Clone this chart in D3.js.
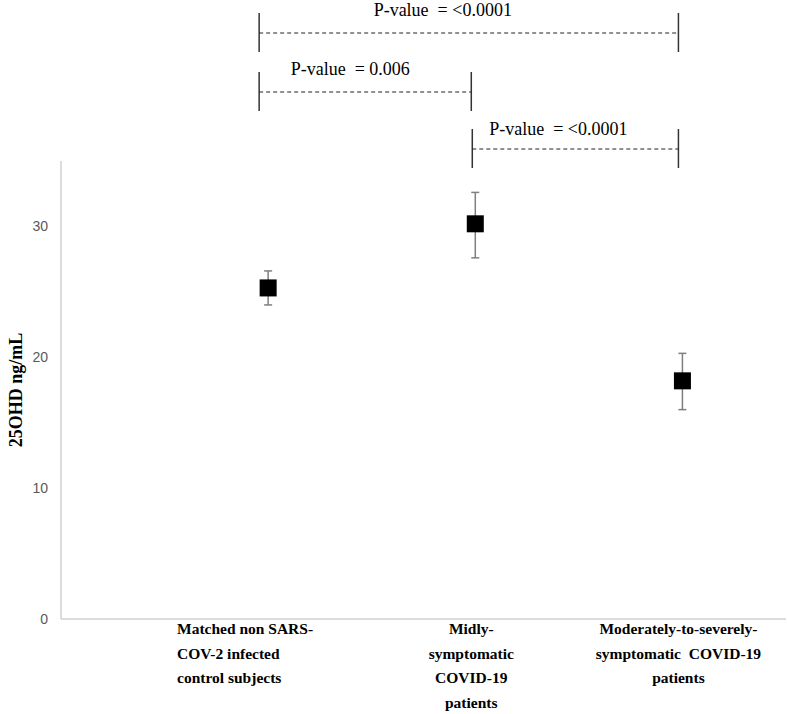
<!DOCTYPE html>
<html>
<head>
<title>25OHD by group</title>
<style>
body { margin: 0; background: #fff; }
</style>
</head>
<body>

<div id="svg-container"></div>

<script src="https://d3js.org/d3.v7.min.js"></script>
<script>
const width = 787;
const height = 714;

// data
const categories = [
  ["Matched non SARS-", "COV-2 infected", "control subjects"],
  ["Midly-", "symptomatic", "COVID-19", "patients"],
  ["Moderately-to-severely-", "symptomatic  COVID-19", "patients"]
];
const means = [25.3, 30.2, 18.2];
const lower = [24.0, 27.6, 16.0];
const upper = [26.6, 32.6, 20.3];
const yTicks = [0, 10, 20, 30];
const comparisons = [
  { from: 0, to: 2, label: "P-value  = <0.0001" },
  { from: 0, to: 1, label: "P-value  = 0.006" },
  { from: 1, to: 2, label: "P-value  = <0.0001" }
];

const svg = d3.select("#svg-container")
  .append("svg")
  .attr("width", width)
  .attr("height", height);

svg.append("rect")
    .attr("width", width)
    .attr("height", height)
    .attr("fill", "#fff");

const x = d3.scaleLinear().domain([0, 3.5]).range([61, 786]);
const y = d3.scaleLinear().domain([0, 35]).range([619, 161]);

// axes lines
svg.append("line")
    .attr("x1", x(0)).attr("x2", x(0))
    .attr("y1", y(35)).attr("y2", y(0))
    .attr("stroke", "#d0d0d0").attr("stroke-width", 1.5);
svg.append("line")
    .attr("x1", x(0)).attr("x2", x(3.5))
    .attr("y1", y(0)).attr("y2", y(0))
    .attr("stroke", "#d0d0d0").attr("stroke-width", 1.5);

// y tick labels
svg.selectAll(".ytick")
  .data(yTicks)
  .enter().append("text")
    .attr("x", 48)
    .attr("y", d => y(d) + 5)
    .attr("text-anchor", "end")
    .attr("font-family", "Liberation Sans, Arial, sans-serif")
    .attr("font-size", 14)
    .attr("fill", "#595959")
    .text(d => d);

// y label
svg.append("text")
    .attr("transform", `translate(22, ${(y(0) + y(35)) / 2}) rotate(-90)`)
    .attr("text-anchor", "middle")
    .attr("font-family", "Liberation Serif, Times New Roman, serif")
    .attr("font-weight", "bold")
    .attr("font-size", 18)
    .text("25OHD ng/mL");

// error bars
const groups = means.map((m, i) => ({ m, lo: lower[i], hi: upper[i], i }));
groups.forEach(g => {
  const cx = x(g.i + 1);
  svg.append("line")
      .attr("x1", cx).attr("x2", cx)
      .attr("y1", y(g.hi)).attr("y2", y(g.lo))
      .attr("stroke", "#7f7f7f").attr("stroke-width", 1.5);
  [g.hi, g.lo].forEach(v => {
    svg.append("line")
        .attr("x1", cx - 4).attr("x2", cx + 4)
        .attr("y1", y(v)).attr("y2", y(v))
        .attr("stroke", "#7f7f7f").attr("stroke-width", 1.5);
  });
});

// markers
svg.selectAll(".pt")
  .data(groups)
  .enter().append("rect")
    .attr("x", d => x(d.i + 1) - 8.5)
    .attr("y", d => y(d.m) - 8.5)
    .attr("width", 17)
    .attr("height", 17)
    .attr("fill", "#000");

// category labels
const catFont = "Liberation Serif, Times New Roman, serif";
categories.forEach((lines, i) => {
  const left = i === 0;
  const t = svg.append("text")
      .attr("font-family", catFont)
      .attr("font-weight", "bold")
      .attr("font-size", 15.5)
      .attr("text-anchor", left ? "start" : "middle")
      .style("white-space", "pre");
  lines.forEach((s, j) => {
    t.append("tspan")
        .attr("x", left ? 177 : x(i + 1) - 4)
        .attr("y", 634 + j * 24.5)
        .text(s);
  });
});

// significance brackets
const levels = [33, 92, 149];
const labelY = [16, 75, 135];
const labelDx = [-26, -15, -17];
comparisons.forEach((c, k) => {
  const x1 = x(c.from + 1) - (c.from === 0 ? 9 : 3);
  const x2 = x(c.to + 1) - 4;
  const ly = levels[k];
  [x1, x2].forEach(xx => {
    svg.append("line")
        .attr("x1", xx).attr("x2", xx)
        .attr("y1", ly - 20).attr("y2", ly + 19)
        .attr("stroke", "#333").attr("stroke-width", 1.5);
  });
  svg.append("line")
      .attr("x1", x1).attr("x2", x2)
      .attr("y1", ly).attr("y2", ly)
      .attr("stroke", "#222").attr("stroke-width", 1)
      .attr("stroke-dasharray", "4,3");
  svg.append("text")
      .attr("x", (x1 + x2) / 2 + labelDx[k])
      .attr("y", labelY[k])
      .attr("text-anchor", "middle")
      .attr("font-family", catFont)
      .attr("font-size", 18)
      .style("white-space", "pre")
      .text(c.label);
});
</script>

</body>
</html>
